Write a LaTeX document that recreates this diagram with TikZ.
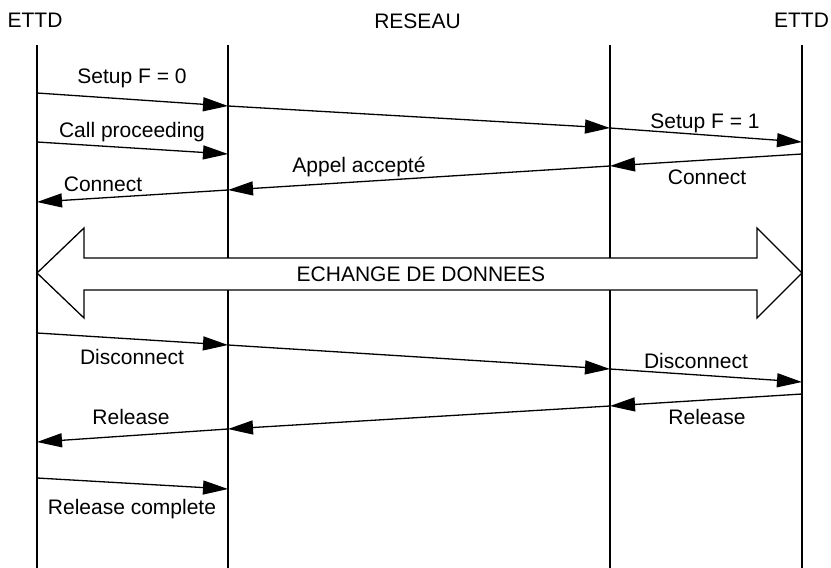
\documentclass[tikz,border=0pt]{standalone}
\usepackage{fontspec}
\setmainfont{Liberation Sans}
\usetikzlibrary{arrows.meta}
\begin{document}
\begin{tikzpicture}[x=1pt,y=-1pt,
  lifeline/.style={line width=1.3pt},
  msg/.style={line width=1.3pt,-{Triangle[length=25pt,width=14pt]}},
  seg/.style={line width=1.3pt},
  lbl/.style={anchor=base,inner sep=0pt,font=\fontsize{21}{25}\selectfont},
  bigarrow/.style={line width=1.3pt,fill=white,line join=miter}]
\useasboundingbox (0,0) rectangle (831,568);

% column titles
\node[lbl] (tA) at (35,27) {ETTD};
\node[lbl] (tN) at (417.5,28) {RESEAU};
\node[lbl] (tD) at (801.5,27) {ETTD};

% lifelines
\coordinate (A0) at (37,45);  \coordinate (A9) at (37,568);
\coordinate (B0) at (228,45); \coordinate (B9) at (228,568);
\coordinate (C0) at (610,45); \coordinate (C9) at (610,568);
\coordinate (D0) at (802,45); \coordinate (D9) at (802,568);
\draw[lifeline] (A0) -- (A9);
\draw[lifeline] (B0) -- (B9);
\draw[lifeline] (C0) -- (C9);
\draw[lifeline] (D0) -- (D9);

% data exchange double arrow
\draw[bigarrow] (37,273) -- (84,228) -- (84,258) -- (757,258) -- (757,228)
  -- (802,273) -- (757,318) -- (757,290) -- (84,290) -- (84,318) -- cycle;
\node[lbl] (xchg) at (421,281) {ECHANGE DE DONNEES};

% message anchor points
\coordinate (a1) at (37,93);  \coordinate (b1) at (228,106);
\coordinate (c1) at (610,128); \coordinate (d1) at (802,142);
\coordinate (a2) at (37,142); \coordinate (b2) at (228,154);
\coordinate (d3) at (802,154); \coordinate (c3) at (610,166);
\coordinate (b3) at (228,190); \coordinate (a3) at (37,202);
\coordinate (a4) at (37,333); \coordinate (b4) at (228,345);
\coordinate (c4) at (610,369); \coordinate (d4) at (802,382);
\coordinate (d5) at (802,394); \coordinate (c5) at (610,406);
\coordinate (b5) at (228,429); \coordinate (a5) at (37,442);
\coordinate (a6) at (37,478); \coordinate (b6) at (228,489);

% connection set-up
\draw[msg] (a1) -- (b1);
\draw[msg] (b1) -- (c1);
\draw[msg] (c1) -- (d1);
\draw[msg] (a2) -- (b2);
\draw[msg] (d3) -- (c3);
\draw[msg] (c3) -- (b3);
\draw[msg] (b3) -- (a3);

% connection release
\draw[msg] (a4) -- (b4);
\draw[msg] (b4) -- (c4);
\draw[msg] (c4) -- (d4);
\draw[msg] (d5) -- (c5);
\draw[msg] (c5) -- (b5);
\draw[msg] (b5) -- (a5);
\draw[msg] (a6) -- (b6);

% message labels
\node[lbl] (l1) at (132,83) {Setup F = 0};
\node[lbl] (l2) at (132,137) {Call proceeding};
\node[lbl] (l3) at (103,191) {Connect};
\node[lbl] (l4) at (359,172) {Appel accepté};
\node[lbl] (l5) at (705,128) {Setup F = 1};
\node[lbl] (l6) at (707,184) {Connect};
\node[lbl] (l7) at (132,364) {Disconnect};
\node[lbl] (l8) at (131,424) {Release};
\node[lbl] (l9) at (132,514) {Release complete};
\node[lbl] (l10) at (696,368) {Disconnect};
\node[lbl] (l11) at (707,424) {Release};
\end{tikzpicture}
\end{document}
